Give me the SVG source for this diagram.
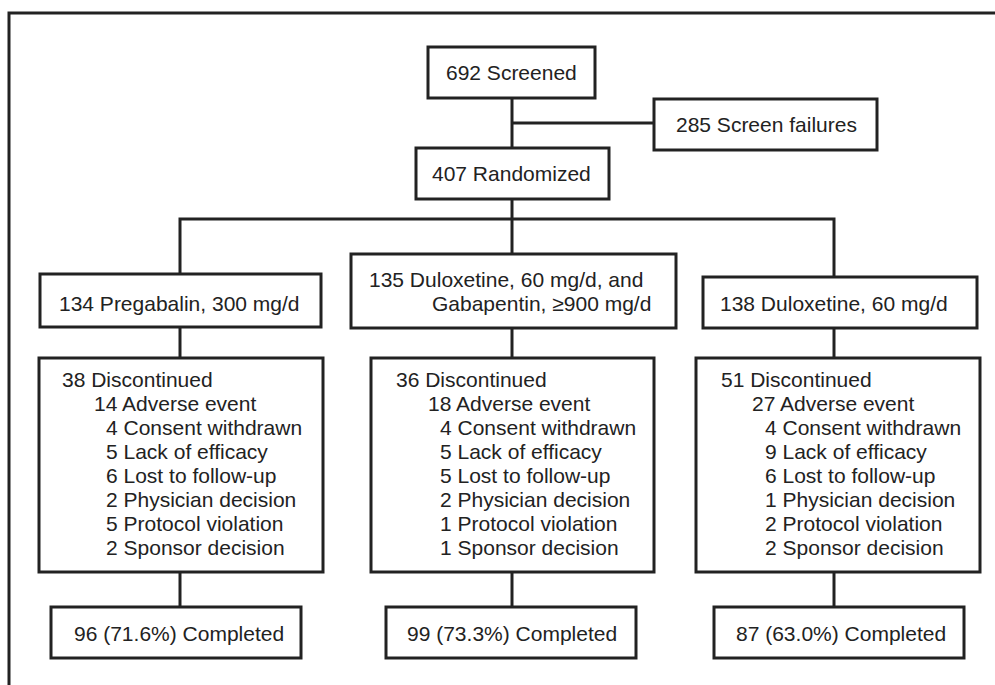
<svg xmlns="http://www.w3.org/2000/svg" width="995" height="685" viewBox="0 0 995 685">
<style>
.box{fill:#fff;stroke:#222;stroke-width:3}
.ln{fill:none;stroke:#222;stroke-width:3}
text{font-family:"Liberation Sans",Arial,sans-serif;font-size:21px;fill:#222}
</style>
<rect width="995" height="685" fill="#fff"/>
<path class="ln" d="M9,685 V13 H995"/>
<g id="connectors">
<path class="ln" d="M512,98 V148"/>
<path class="ln" d="M512,123 H654"/>
<path class="ln" d="M512,199 V254"/>
<path class="ln" d="M180,274 V219 H834 V277"/>
<path class="ln" d="M180,327 V358"/>
<path class="ln" d="M512,328 V358"/>
<path class="ln" d="M834,328 V358"/>
<path class="ln" d="M180,572 V607"/>
<path class="ln" d="M512,572 V607"/>
<path class="ln" d="M834,572 V607"/>
</g>
<g id="screened"><rect class="box" x="428" y="47" width="167" height="51"/><text x="446" y="80">692 Screened</text></g>
<g id="failures"><rect class="box" x="654" y="99" width="223" height="51"/><text x="676" y="132">285 Screen failures</text></g>
<g id="randomized"><rect class="box" x="416" y="148" width="193" height="51"/><text x="432" y="181">407 Randomized</text></g>
<g id="arm1"><rect class="box" x="40" y="274" width="281" height="53"/><text x="59" y="311">134 Pregabalin, 300 mg/d</text></g>
<g id="arm2"><rect class="box" x="351" y="254" width="325" height="74"/><text x="369" y="287">135 Duloxetine, 60 mg/d, and</text><text x="432" y="311">Gabapentin, ≥900 mg/d</text></g>
<g id="arm3"><rect class="box" x="703" y="277" width="274" height="51"/><text x="720" y="311">138 Duloxetine, 60 mg/d</text></g>
<g id="disc1"><rect class="box" x="39" y="358" width="284" height="214"/>
<text x="62" y="387">38 Discontinued</text>
<text x="94" y="411">14 Adverse event</text>
<text x="106" y="435">4 Consent withdrawn</text>
<text x="106" y="459">5 Lack of efficacy</text>
<text x="106" y="483">6 Lost to follow-up</text>
<text x="106" y="507">2 Physician decision</text>
<text x="106" y="531">5 Protocol violation</text>
<text x="106" y="555">2 Sponsor decision</text>
</g>
<g id="disc2"><rect class="box" x="371" y="358" width="283" height="214"/>
<text x="396" y="387">36 Discontinued</text>
<text x="428" y="411">18 Adverse event</text>
<text x="440" y="435">4 Consent withdrawn</text>
<text x="440" y="459">5 Lack of efficacy</text>
<text x="440" y="483">5 Lost to follow-up</text>
<text x="440" y="507">2 Physician decision</text>
<text x="440" y="531">1 Protocol violation</text>
<text x="440" y="555">1 Sponsor decision</text>
</g>
<g id="disc3"><rect class="box" x="696" y="358" width="284" height="214"/>
<text x="721" y="387">51 Discontinued</text>
<text x="752" y="411">27 Adverse event</text>
<text x="765" y="435">4 Consent withdrawn</text>
<text x="765" y="459">9 Lack of efficacy</text>
<text x="765" y="483">6 Lost to follow-up</text>
<text x="765" y="507">1 Physician decision</text>
<text x="765" y="531">2 Protocol violation</text>
<text x="765" y="555">2 Sponsor decision</text>
</g>
<g id="comp1"><rect class="box" x="51" y="607" width="250" height="51"/><text x="74" y="641">96 (71.6%) Completed</text></g>
<g id="comp2"><rect class="box" x="386" y="607" width="250" height="51"/><text x="407" y="641">99 (73.3%) Completed</text></g>
<g id="comp3"><rect class="box" x="714" y="607" width="250" height="51"/><text x="736" y="641">87 (63.0%) Completed</text></g>
</svg>
